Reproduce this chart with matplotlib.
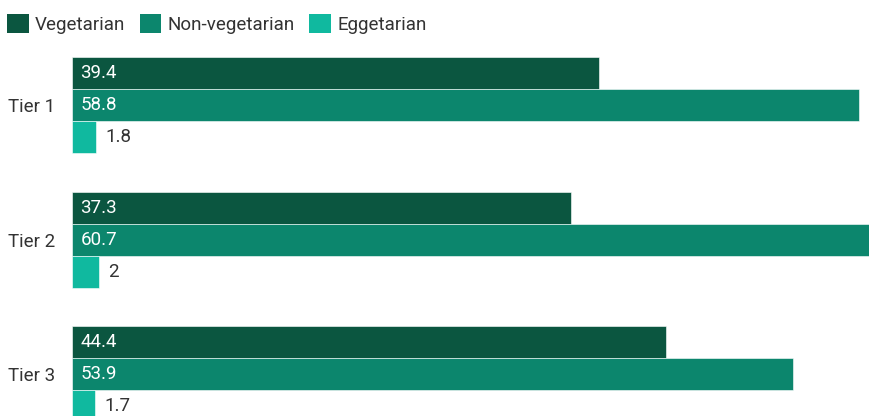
import numpy as np
import matplotlib.pyplot as plt
from matplotlib.patches import Patch

plt.rcParams['font.family'] = ['Roboto', 'DejaVu Sans']

# --- dati ---
tiers = ['Tier 1', 'Tier 2', 'Tier 3']
series = ['Vegetarian', 'Non-vegetarian', 'Eggetarian']
vegetarian = [39.4, 37.3, 44.4]
non_vegetarian = [58.8, 60.7, 53.9]
eggetarian = [1.8, 2, 1.7]
colors = ['#0b5640', '#0c866d', '#10b99f']

W, H = 870, 416
fs = 13.5
fig = plt.figure(figsize=(W / 100, H / 100), dpi=100)
# area del grafico in pixel: sinistra 72, destra 870, alto 57, basso 416
ax = fig.add_axes([72 / W, 0, (W - 72) / W, (H - 57) / H])

bar_h = 0.238
y = np.arange(len(tiers))
values = [vegetarian, non_vegetarian, eggetarian]
for k, (vals, col) in enumerate(zip(values, colors)):
    pos = y + (k - 1) * bar_h
    ax.barh(pos, vals, height=bar_h, color=col, edgecolor='white', linewidth=0.4)
    for p, v in zip(pos, vals):
        lab = f'{v:g}'
        if k < 2:
            ax.annotate(lab, (0, p), xytext=(6, 0), textcoords='offset points',
                        va='center', ha='left', color='white', fontsize=fs)
        else:
            ax.annotate(lab, (v, p), xytext=(7, 0), textcoords='offset points',
                        va='center', ha='left', color='#333333', fontsize=fs)

ax.set_xlim(0, 59.65)
ax.set_ylim(2.312, -0.357)
ax.set_yticks(y)
ax.set_yticklabels(tiers, fontsize=fs, color='#333333')
ax.tick_params(axis='y', length=0, pad=12)
ax.set_xticks([])
for s in ax.spines.values():
    s.set_visible(False)

handles = [Patch(facecolor=c, label=s) for c, s in zip(colors, series)]
fig.legend(handles=handles, loc='upper left', bbox_to_anchor=(-0.007, 0.998), ncol=3,
           frameon=False, fontsize=fs, handlelength=1.15, handleheight=1.15,
           handletextpad=0.35, columnspacing=0.75, borderaxespad=0.3,
           labelcolor='#333333')

fig.savefig('out.png', dpi=100)
